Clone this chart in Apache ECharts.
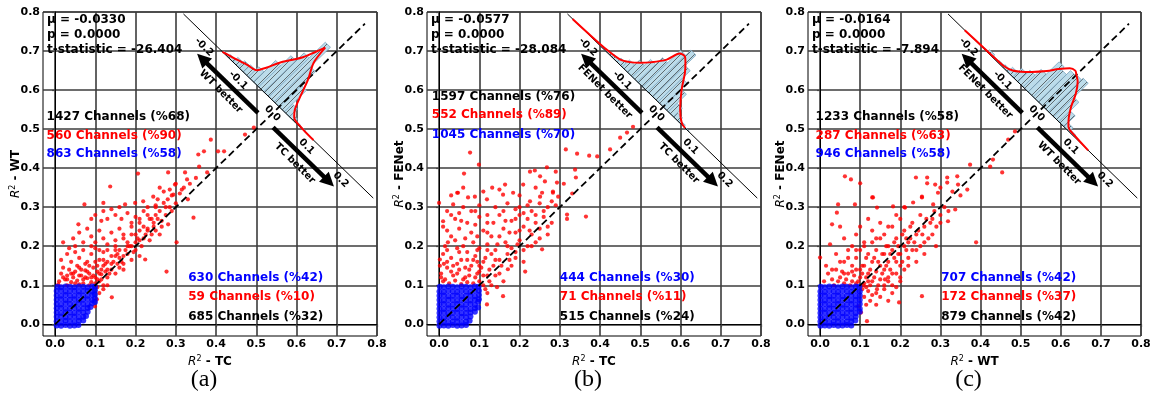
<!DOCTYPE html>
<html><head><meta charset="utf-8">
<script src="https://cdn.jsdelivr.net/npm/echarts@6.0.0/dist/echarts.min.js"></script>
<style>html,body{margin:0;padding:0;background:#fff;}#c{width:1156px;height:397px;}</style>
</head><body><div id="c"></div>
<script>
// ---------- data ----------
const axisTicks = [0, 0.1, 0.2, 0.3, 0.4, 0.5, 0.6, 0.7, 0.8];
const diffTicks = [-0.2, -0.1, 0, 0.1, 0.2];
const captions = ['(a)', '(b)', '(c)'];
const xNames = ['TC', 'TC', 'WT'];
const yNames = ['WT', 'FENet', 'FENet'];
const betterUp = ['WT better', 'FENet better', 'FENet better'];
const betterDown = ['TC better', 'TC better', 'WT better'];
const statMu = ['-0.0330', '-0.0577', '-0.0164'];
const statP = ['0.0000', '0.0000', '0.0000'];
const statT = ['-26.404', '-28.084', '-7.894'];
const upperBlack = ['1427 Channels (%68)', '1597 Channels (%76)', '1233 Channels (%58)'];
const upperRed = ['560 Channels (%90)', '552 Channels (%89)', '287 Channels (%63)'];
const upperBlue = ['863 Channels (%58)', '1045 Channels (%70)', '946 Channels (%58)'];
const lowerBlue = ['630 Channels (%42)', '444 Channels (%30)', '707 Channels (%42)'];
const lowerRed = ['59 Channels (%10)', '71 Channels (%11)', '172 Channels (%37)'];
const lowerBlack = ['685 Channels (%32)', '515 Channels (%24)', '879 Channels (%42)'];

const redA = [[0.137,0.353],[0.206,0.386],[0.281,0.389],[0.323,0.389],[0.356,0.435],[0.37,0.443],[0.387,0.473],[0.405,0.443],[0.42,0.443],[0.472,0.486],[0.494,0.504],[0.358,0.404],[0.378,0.389],[0.328,0.371],[0.298,0.358],[0.315,0.345],[0.27,0.34],[0.29,0.33],[0.31,0.335],[0.335,0.36],[0.35,0.375],[0.3,0.31],[0.26,0.35],[0.275,0.3],[0.285,0.345],[0.3,0.36],[0.32,0.35],[0.255,0.32],[0.33,0.32],
[0.073,0.307],[0.12,0.311],[0.174,0.307],[0.199,0.311],[0.219,0.315],[0.244,0.327],[0.27,0.311],[0.294,0.332],[0.14,0.295],[0.16,0.3],[0.23,0.3],[0.25,0.305],[0.26,0.29],[0.28,0.32],
[0.058,0.256],[0.09,0.27],[0.1,0.28],[0.115,0.265],[0.13,0.27],[0.15,0.28],[0.165,0.27],[0.18,0.285],[0.2,0.275],[0.21,0.26],[0.22,0.29],[0.235,0.27],[0.25,0.28],[0.265,0.265],[0.281,0.256],[0.29,0.29],[0.344,0.273],[0.12,0.29],[0.19,0.25],[0.245,0.25],
[0.02,0.21],[0.045,0.22],[0.06,0.235],[0.07,0.21],[0.08,0.245],[0.09,0.225],[0.1,0.21],[0.11,0.24],[0.12,0.22],[0.13,0.205],[0.14,0.235],[0.15,0.215],[0.16,0.245],[0.17,0.22],[0.18,0.2],[0.19,0.23],[0.2,0.21],[0.21,0.24],[0.22,0.22],[0.23,0.245],[0.24,0.23],[0.25,0.24],[0.302,0.21],[0.26,0.23],[0.05,0.2],
[0.015,0.165],[0.03,0.18],[0.04,0.16],[0.05,0.185],[0.06,0.17],[0.07,0.19],[0.08,0.16],[0.09,0.18],[0.1,0.195],[0.11,0.165],[0.12,0.185],[0.13,0.16],[0.14,0.175],[0.15,0.19],[0.16,0.17],[0.17,0.155],[0.18,0.18],[0.19,0.165],[0.2,0.19],[0.21,0.175],[0.224,0.166],[0.12,0.15],[0.155,0.155],[0.035,0.195],[0.075,0.155],[0.105,0.15],
[0.01,0.11],[0.015,0.13],[0.02,0.145],[0.025,0.115],[0.03,0.125],[0.035,0.14],[0.04,0.108],[0.045,0.12],[0.05,0.135],[0.055,0.112],[0.06,0.145],[0.065,0.125],[0.07,0.105],[0.075,0.138],[0.08,0.118],[0.085,0.13],[0.09,0.108],[0.095,0.145],[0.1,0.12],[0.105,0.135],[0.11,0.11],[0.115,0.128],[0.12,0.1],[0.13,0.12],[0.14,0.14],[0.15,0.13],[0.16,0.145],[0.17,0.14],[0.277,0.135],[0.008,0.102],[0.03,0.1],[0.06,0.102],[0.085,0.1],
[0.141,0.069],[0.104,0.064],[0.099,0.046],[0.11,0.08],[0.12,0.09],[0.13,0.1],[0.105,0.095],
[0.03,0.115],[0.045,0.13],[0.055,0.15],[0.065,0.14],[0.075,0.12],[0.085,0.15],[0.095,0.125],[0.105,0.115],[0.115,0.14],[0.125,0.155],[0.135,0.13],[0.145,0.16],[0.155,0.18],[0.165,0.16],[0.175,0.19],[0.185,0.2],[0.195,0.185],[0.205,0.22],[0.215,0.2],[0.225,0.23],[0.235,0.215],[0.245,0.26],[0.255,0.27],[0.265,0.25],[0.275,0.28],[0.285,0.3],[0.11,0.13],[0.12,0.165],[0.13,0.14],[0.14,0.155],[0.15,0.175],[0.16,0.19],[0.17,0.175],[0.18,0.21],[0.19,0.2],[0.2,0.23],[0.21,0.215],[0.22,0.25],[0.23,0.24],[0.24,0.27],[0.05,0.105],[0.07,0.115],[0.09,0.12],[0.1,0.105],[0.115,0.115],[0.125,0.135],[0.02,0.12],[0.04,0.13],[0.06,0.125],[0.08,0.135],[0.1,0.16],[0.09,0.2],[0.11,0.19],[0.13,0.19],[0.15,0.2],[0.17,0.23],[0.19,0.26],[0.21,0.27],[0.23,0.28],[0.25,0.3]];

const blueA = [[0.004,-0.003],[0.015,-0.004],[0.026,-0.002],[0.037,-0.004],[0.048,-0.003],[0.058,-0.002],
[0.004,0.008],[0.015,0.007],[0.026,0.009],[0.037,0.008],[0.048,0.007],[0.059,0.009],[0.07,0.01],
[0.004,0.019],[0.015,0.02],[0.026,0.018],[0.037,0.019],[0.048,0.02],[0.059,0.018],[0.07,0.019],[0.077,0.021],
[0.004,0.03],[0.015,0.029],[0.026,0.031],[0.037,0.03],[0.048,0.029],[0.059,0.031],[0.07,0.03],[0.081,0.032],
[0.004,0.041],[0.015,0.042],[0.026,0.04],[0.037,0.041],[0.048,0.042],[0.059,0.04],[0.07,0.041],[0.081,0.042],[0.088,0.044],
[0.004,0.052],[0.015,0.051],[0.026,0.053],[0.037,0.052],[0.048,0.051],[0.059,0.053],[0.07,0.052],[0.081,0.051],[0.092,0.054],[0.099,0.057],
[0.004,0.063],[0.015,0.064],[0.026,0.062],[0.037,0.063],[0.048,0.064],[0.059,0.062],[0.07,0.063],[0.081,0.064],[0.092,0.062],[0.099,0.066],
[0.004,0.074],[0.015,0.073],[0.026,0.075],[0.037,0.074],[0.048,0.073],[0.059,0.075],[0.07,0.074],[0.081,0.073],[0.092,0.075],[0.099,0.076],
[0.004,0.085],[0.015,0.086],[0.026,0.084],[0.037,0.085],[0.048,0.086],[0.059,0.084],[0.07,0.085],[0.081,0.086],[0.092,0.084],[0.099,0.087],
[0.006,0.096],[0.015,0.095],[0.026,0.097],[0.037,0.096],[0.048,0.095],[0.059,0.097],[0.07,0.096],[0.081,0.095],[0.092,0.097],[0.099,0.096]];

const redB = [[0.077,0.44],[0.099,0.409],[0.062,0.386],[0.045,0.337],[0.132,0.35],[0.164,0.358],[0.209,0.358],[0.226,0.391],[0.238,0.394],[0.251,0.379],[0.268,0.402],[0.263,0.366],[0.29,0.391],[0.315,0.448],[0.343,0.437],[0.373,0.432],[0.393,0.43],[0.425,0.448],[0.293,0.363],[0.296,0.327],[0.331,0.335],[0.338,0.396],[0.34,0.376],[0.45,0.478],[0.467,0.491],[0.482,0.506],[0.283,0.34],[0.251,0.327],[0.2,0.33],[0.15,0.345],[0.11,0.34],[0.24,0.35],[0.31,0.36],[0.03,0.33],[0.06,0.35],
[0.0,0.311],[0.01,0.264],[0.047,0.337],[0.035,0.307],[0.072,0.325],[0.089,0.327],[0.119,0.32],[0.159,0.332],[0.184,0.337],[0.226,0.315],[0.256,0.337],[0.283,0.337],[0.318,0.281],[0.365,0.276],[0.318,0.27],[0.256,0.192],[0.214,0.135],[0.171,0.141],[0.144,0.095],[0.159,0.072],[0.119,0.051],[0.022,0.21],[0.002,0.166],[0.002,0.15],
[0.03,0.28],[0.06,0.3],[0.08,0.29],[0.1,0.305],[0.14,0.3],[0.17,0.31],[0.2,0.3],[0.23,0.29],[0.25,0.31],[0.27,0.3],[0.29,0.305],
[0.04,0.27],[0.07,0.26],[0.1,0.275],[0.12,0.26],[0.15,0.28],[0.18,0.265],[0.2,0.28],[0.22,0.27],[0.24,0.26],[0.26,0.275],[0.28,0.26],
[0.02,0.24],[0.05,0.245],[0.08,0.235],[0.11,0.24],[0.13,0.225],[0.16,0.245],[0.19,0.235],[0.21,0.25],[0.23,0.23],[0.25,0.245],[0.27,0.23],
[0.015,0.2],[0.04,0.215],[0.06,0.2],[0.085,0.21],[0.1,0.195],[0.12,0.205],[0.14,0.19],[0.165,0.21],[0.18,0.195],[0.2,0.215],[0.22,0.2],[0.24,0.21],
[0.01,0.18],[0.03,0.17],[0.05,0.185],[0.07,0.165],[0.09,0.175],[0.11,0.16],[0.13,0.18],[0.15,0.165],[0.17,0.18],[0.19,0.17],[0.21,0.16],
[0.005,0.13],[0.02,0.145],[0.035,0.125],[0.05,0.14],[0.065,0.12],[0.08,0.15],[0.095,0.13],[0.105,0.145],[0.12,0.125],[0.135,0.15],[0.15,0.13],[0.16,0.11],[0.18,0.15],[0.13,0.1],
[0.01,0.11],[0.025,0.105],[0.04,0.112],[0.055,0.103],[0.07,0.108],[0.085,0.105],[0.1,0.11],[0.115,0.09],[0.12,0.08],[0.11,0.1],[0.012,0.155],[0.045,0.155],[0.075,0.14],[0.095,0.16],
[0.005,0.12],[0.015,0.115],[0.03,0.135],[0.045,0.13],[0.06,0.115],[0.075,0.125],[0.09,0.12],[0.1,0.135],[0.02,0.16],[0.035,0.15],[0.055,0.165],[0.065,0.145],[0.085,0.165],[0.1,0.15],[0.115,0.17],[0.125,0.14],[0.14,0.165],[0.155,0.15],[0.175,0.165],[0.19,0.185],[0.02,0.19],[0.045,0.195],[0.07,0.185],[0.095,0.19],[0.12,0.19],[0.145,0.205],[0.17,0.2],[0.195,0.205],[0.21,0.19],[0.03,0.225],[0.065,0.22],[0.095,0.225],[0.12,0.235],[0.15,0.225],[0.175,0.235],[0.2,0.24],[0.225,0.24],[0.01,0.25],[0.055,0.265],[0.09,0.255],[0.135,0.26],[0.165,0.265],[0.19,0.27],[0.21,0.285],[0.24,0.28],[0.26,0.29],[0.02,0.29],[0.05,0.285],[0.09,0.29],[0.12,0.28],[0.16,0.29],[0.19,0.295],[0.22,0.305],[0.28,0.315],[0.125,0.11],[0.14,0.125],[0.11,0.125],[0.23,0.2],[0.25,0.22],[0.27,0.25]];

const blueB = [[0.001,-0.004],[0.012,-0.003],[0.023,-0.004],[0.034,-0.002],[0.045,-0.004],[0.056,-0.003],[0.067,-0.002],
[0.001,0.007],[0.012,0.008],[0.023,0.006],[0.034,0.007],[0.045,0.008],[0.056,0.006],[0.067,0.007],[0.076,0.009],
[0.001,0.018],[0.012,0.017],[0.023,0.019],[0.034,0.018],[0.045,0.017],[0.056,0.019],[0.067,0.018],[0.078,0.02],
[0.001,0.029],[0.012,0.03],[0.023,0.028],[0.034,0.029],[0.045,0.03],[0.056,0.028],[0.067,0.029],[0.078,0.03],[0.089,0.032],
[0.001,0.04],[0.012,0.039],[0.023,0.041],[0.034,0.04],[0.045,0.039],[0.056,0.041],[0.067,0.04],[0.078,0.039],[0.089,0.041],[0.097,0.043],
[0.001,0.051],[0.012,0.052],[0.023,0.05],[0.034,0.051],[0.045,0.052],[0.056,0.05],[0.067,0.051],[0.078,0.052],[0.089,0.05],[0.097,0.058],
[0.001,0.062],[0.012,0.061],[0.023,0.063],[0.034,0.062],[0.045,0.061],[0.056,0.063],[0.067,0.062],[0.078,0.061],[0.089,0.063],[0.099,0.064],
[0.001,0.073],[0.012,0.074],[0.023,0.072],[0.034,0.073],[0.045,0.074],[0.056,0.072],[0.067,0.073],[0.078,0.074],[0.089,0.072],[0.099,0.075],
[0.001,0.084],[0.012,0.083],[0.023,0.085],[0.034,0.084],[0.045,0.083],[0.056,0.085],[0.067,0.084],[0.078,0.083],[0.089,0.085],[0.099,0.086],
[0.002,0.096],[0.012,0.095],[0.023,0.097],[0.034,0.096],[0.045,0.095],[0.056,0.097],[0.067,0.096],[0.078,0.095],[0.089,0.097],[0.098,0.096]];

const redC = [[0.0,0.171],[0.045,0.307],[0.042,0.286],[0.03,0.256],[0.025,0.205],[0.087,0.307],[0.13,0.325],[0.142,0.299],[0.182,0.302],[0.212,0.299],[0.232,0.312],[0.254,0.325],[0.282,0.307],[0.319,0.264],[0.337,0.294],[0.389,0.21],[0.289,0.2],[0.254,0.072],[0.197,0.056],[0.117,0.008],[0.095,0.046],[0.142,0.09],[0.162,0.115],
[0.062,0.379],[0.077,0.371],[0.1,0.361],[0.132,0.325],[0.239,0.376],[0.267,0.376],[0.267,0.361],[0.287,0.358],[0.317,0.376],[0.317,0.363],[0.342,0.379],[0.344,0.358],[0.367,0.345],[0.374,0.409],[0.424,0.404],[0.431,0.422],[0.454,0.389],[0.469,0.473],[0.486,0.494],[0.254,0.327],[0.294,0.337],[0.3,0.35],[0.33,0.34],[0.35,0.33],
[0.05,0.25],[0.06,0.22],[0.08,0.2],[0.09,0.23],[0.1,0.25],[0.11,0.21],[0.12,0.27],[0.13,0.24],[0.14,0.22],[0.15,0.26],[0.16,0.23],[0.17,0.2],[0.18,0.25],[0.19,0.22],[0.2,0.27],[0.21,0.24],[0.22,0.21],[0.23,0.26],[0.24,0.23],[0.25,0.28],[0.26,0.25],[0.27,0.22],[0.28,0.27],[0.29,0.25],[0.3,0.28],[0.31,0.3],[0.32,0.29],
[0.04,0.18],[0.06,0.16],[0.07,0.19],[0.08,0.15],[0.09,0.17],[0.1,0.19],[0.11,0.15],[0.12,0.18],[0.13,0.16],[0.14,0.19],[0.15,0.15],[0.16,0.18],[0.17,0.16],[0.18,0.19],[0.19,0.16],[0.2,0.18],[0.21,0.2],[0.22,0.17],[0.23,0.19],[0.24,0.16],[0.25,0.2],[0.26,0.18],
[0.02,0.13],[0.03,0.115],[0.04,0.14],[0.05,0.12],[0.06,0.105],[0.07,0.13],[0.08,0.11],[0.09,0.14],[0.1,0.12],[0.11,0.105],[0.12,0.13],[0.13,0.11],[0.14,0.135],[0.15,0.115],[0.16,0.14],[0.17,0.12],[0.18,0.1],[0.19,0.13],[0.2,0.11],[0.21,0.14],
[0.105,0.09],[0.11,0.07],[0.115,0.05],[0.12,0.085],[0.125,0.06],[0.13,0.075],[0.14,0.05],[0.15,0.07],[0.16,0.09],[0.17,0.06],[0.18,0.08],[0.19,0.095],[0.2,0.12],[0.102,0.03],[0.108,0.1],[0.115,0.095],[0.01,0.11],[0.015,0.15],[0.035,0.1],[0.055,0.135],[0.075,0.1],[0.09,0.105],
[0.03,0.14],[0.045,0.11],[0.065,0.115],[0.085,0.125],[0.095,0.11],[0.105,0.13],[0.115,0.12],[0.125,0.1],[0.135,0.12],[0.145,0.1],[0.155,0.13],[0.165,0.15],[0.175,0.14],[0.185,0.17],[0.195,0.18],[0.205,0.16],[0.215,0.19],[0.225,0.22],[0.235,0.21],[0.245,0.24],[0.255,0.23],[0.265,0.27],[0.275,0.26],[0.285,0.29],[0.105,0.15],[0.115,0.17],[0.125,0.14],[0.135,0.17],[0.145,0.16],[0.155,0.18],[0.165,0.2],[0.175,0.18],[0.185,0.21],[0.195,0.2],[0.205,0.23],[0.215,0.22],[0.225,0.25],[0.14,0.08],[0.16,0.1],[0.17,0.11],[0.18,0.13],[0.2,0.15],[0.22,0.15],[0.24,0.19],[0.26,0.21],[0.28,0.23],[0.3,0.26],[0.05,0.16],[0.07,0.17],[0.09,0.19],[0.11,0.2],[0.13,0.21],[0.15,0.22],[0.17,0.25],[0.19,0.28],[0.21,0.3],[0.06,0.13],[0.08,0.135],[0.1,0.14],[0.12,0.11]];

const blueC = [[0.001,-0.004],[0.012,-0.003],[0.023,-0.004],[0.034,-0.002],[0.045,-0.004],[0.056,-0.003],[0.067,-0.002],[0.078,-0.003],
[0.001,0.007],[0.012,0.008],[0.023,0.006],[0.034,0.007],[0.045,0.008],[0.056,0.006],[0.067,0.007],[0.078,0.008],[0.088,0.01],
[0.001,0.018],[0.012,0.017],[0.023,0.019],[0.034,0.018],[0.045,0.017],[0.056,0.019],[0.067,0.018],[0.078,0.017],[0.089,0.02],
[0.001,0.029],[0.012,0.03],[0.023,0.028],[0.034,0.029],[0.045,0.03],[0.056,0.028],[0.067,0.029],[0.078,0.03],[0.089,0.028],[0.099,0.032],
[0.001,0.04],[0.012,0.039],[0.023,0.041],[0.034,0.04],[0.045,0.039],[0.056,0.041],[0.067,0.04],[0.078,0.039],[0.089,0.041],[0.099,0.04],
[0.001,0.051],[0.012,0.052],[0.023,0.05],[0.034,0.051],[0.045,0.052],[0.056,0.05],[0.067,0.051],[0.078,0.052],[0.089,0.05],[0.099,0.052],
[0.001,0.062],[0.012,0.061],[0.023,0.063],[0.034,0.062],[0.045,0.061],[0.056,0.063],[0.067,0.062],[0.078,0.061],[0.089,0.063],[0.099,0.062],
[0.001,0.073],[0.012,0.074],[0.023,0.072],[0.034,0.073],[0.045,0.074],[0.056,0.072],[0.067,0.073],[0.078,0.074],[0.089,0.072],[0.099,0.074],
[0.001,0.084],[0.012,0.083],[0.023,0.085],[0.034,0.084],[0.045,0.083],[0.056,0.085],[0.067,0.084],[0.078,0.083],[0.089,0.085],[0.099,0.084],
[0.002,0.096],[0.012,0.095],[0.023,0.097],[0.034,0.096],[0.045,0.095],[0.056,0.097],[0.067,0.096],[0.078,0.095],[0.089,0.097],[0.098,0.096]];

// rotated difference histograms (left bin edge, bar height) and KDE curves ([difference, density])
const binWidth = 0.015;
const histEdgesA = [-0.165,-0.15,-0.135,-0.12,-0.105,-0.09,-0.075,-0.06,-0.045,-0.03,-0.015,0,0.015,0.03,0.045,0.06,0.075];
const histHA     = [0.003,0.006,0.012,0.016,0.018,0.026,0.055,0.08,0.1,0.14,0.09,0.055,0.02,0.007,0.003,0.002,0.001];
const kdeA = [[-0.166,0],[-0.15,0.004],[-0.134,0.0075],[-0.11,0.014],[-0.088,0.019],[-0.078,0.034],[-0.066,0.057],[-0.053,0.075],[-0.04,0.093],[-0.03,0.115],[-0.022,0.133],[-0.016,0.099],[0.001,0.071],[0.015,0.04],[0.027,0.016],[0.038,0.005],[0.065,0.001],[0.1,0]];
const histEdgesB = [-0.21,-0.195,-0.18,-0.165,-0.15,-0.135,-0.12,-0.105,-0.09,-0.075,-0.06,-0.045,-0.03,-0.015,0,0.015,0.03,0.045,0.06];
const histHB     = [0.001,0.002,0.003,0.004,0.006,0.01,0.018,0.03,0.045,0.062,0.094,0.107,0.08,0.06,0.045,0.022,0.01,0.004,0.001];
const kdeB = [[-0.265,0],[-0.22,0.001],[-0.169,0.003],[-0.135,0.007],[-0.116,0.016],[-0.1,0.028],[-0.087,0.04],[-0.066,0.065],[-0.056,0.089],[-0.044,0.0915],[-0.035,0.085],[-0.0195,0.0705],[0.001,0.045],[0.029,0.0175],[0.051,0.0025],[0.064,0]];
const histEdgesC = [-0.18,-0.165,-0.15,-0.135,-0.12,-0.105,-0.09,-0.075,-0.06,-0.045,-0.03,-0.015,0,0.015,0.03,0.045,0.06,0.075];
const histHC     = [0.002,0.006,0.003,0.004,0.006,0.012,0.022,0.03,0.045,0.077,0.07,0.08,0.082,0.086,0.05,0.028,0.01,0.004];
const kdeC = [[-0.231,0],[-0.18,0.001],[-0.14,0.002],[-0.118,0.003],[-0.1,0.008],[-0.086,0.017],[-0.07,0.03],[-0.049,0.05],[-0.035,0.067],[-0.0197,0.0824],[-0.008,0.086],[0,0.082],[0.012,0.075],[0.0276,0.057],[0.04,0.035],[0.053,0.018],[0.066,0.006],[0.09,0.002],[0.131,0]];

const reds = [redA, redB, redC];
const blues = [blueA, blueB, blueC];
const histEdges = [histEdgesA, histEdgesB, histEdgesC];
const histHs = [histHA, histHB, histHC];
const kdes = [kdeA, kdeB, kdeC];

// ---------- geometry of the rotated inset (difference axis along anti-diagonal) ----------
const O = 0.557, K = 0.85;
function toXY(d, h) { return [O + K * d + h, O - K * d + h]; }
const diagEnds = [0, 0.77];
const insetRange = [-0.28, 0.275];
const arrowSpans = [[-0.022, -0.2], [0.022, 0.2]];
const arrowH = -0.034;

const grids = [{left: 43, width: 334}, {left: 427, width: 334}, {left: 808, width: 333}];
const FONT = 'DejaVu Sans';

function hatchCanvas() {
  const c = document.createElement('canvas');
  c.width = 7; c.height = 7;
  const g = c.getContext('2d');
  g.fillStyle = '#bcdcea'; g.fillRect(0, 0, 7, 7);
  g.strokeStyle = 'rgba(40,40,40,0.9)'; g.lineWidth = 0.7;
  g.beginPath();
  g.moveTo(0, 7); g.lineTo(7, 0);
  g.moveTo(-1, 1); g.lineTo(1, -1);
  g.moveTo(6, 8); g.lineTo(8, 6);
  g.stroke();
  return c;
}
const hatch = hatchCanvas();

const chart = echarts.init(document.getElementById('c'), null, {renderer: 'canvas'});

const gridOpt = [], xAxes = [], yAxes = [], series = [];
const richName = {
  r: {fontFamily: FONT, fontStyle: 'italic', fontSize: 12, color: '#000'},
  s: {fontFamily: FONT, fontSize: 8, color: '#000', verticalAlign: 'bottom', padding: [0, 0, 6, 0]},
  b: {fontFamily: FONT, fontWeight: 'bold', fontSize: 12, color: '#000'}
};
for (let i = 0; i < 3; i++) {
  gridOpt.push({left: grids[i].left, width: grids[i].width, top: 12, height: 324, show: true, borderColor: '#000', borderWidth: 1, backgroundColor: 'transparent'});
  const common = {
    type: 'value', gridIndex: i, min: -0.03, max: 0.8,
    axisLine: {show: true, lineStyle: {color: '#000', width: 1}},
    axisTick: {show: true, length: 3, lineStyle: {color: '#444', width: 1.2}, customValues: axisTicks},
    axisLabel: {customValues: axisTicks, formatter: v => v.toFixed(1), fontFamily: FONT, fontWeight: 'bold', fontSize: 11, color: '#000', margin: 3},
    splitLine: {show: true, lineStyle: {color: '#3c3c3c', width: 1.6}},
    nameLocation: 'middle', nameTextStyle: {rich: richName}
  };
  xAxes.push(Object.assign({}, common, {name: '{r|R}{s|2}{b| - ' + xNames[i] + '}', nameGap: 17}));
  yAxes.push(Object.assign({}, common, {name: '{r|R}{s|2}{b| - ' + yNames[i] + '}', nameGap: 20, nameRotate: 90, nameMoveOverlap: false}));

  series.push({type: 'scatter', xAxisIndex: i, yAxisIndex: i, data: reds[i], symbolSize: 4.2, itemStyle: {color: '#ff0000'}, z: 2, silent: true, animation: false});
  series.push({type: 'scatter', xAxisIndex: i, yAxisIndex: i, data: blues[i], symbolSize: 6, itemStyle: {color: '#0000ff'}, z: 3, silent: true, animation: false});
  // histogram bars
  const histData = histEdges[i].map((e, k) => [e, e + binWidth, histHs[i][k]]);
  series.push({
    type: 'custom', xAxisIndex: i, yAxisIndex: i, data: histData, z: 4, silent: true, animation: false,
    renderItem: (p, api) => {
      const d0 = api.value(0), d1 = api.value(1), h = api.value(2);
      const pts = [toXY(d0, 0), toXY(d1, 0), toXY(d1, h), toXY(d0, h)].map(q => api.coord(q));
      return {type: 'polygon', shape: {points: pts}, style: {fill: {image: hatch, repeat: 'repeat'}, stroke: '#7fa9c4', lineWidth: 0.8}};
    }
  });
  // KDE curve
  series.push({type: 'line', xAxisIndex: i, yAxisIndex: i, data: kdes[i].map(q => toXY(q[0], q[1])), smooth: 0.3, showSymbol: false, lineStyle: {color: '#ff0000', width: 2}, z: 6, silent: true, animation: false});
  // diagonal y = x
  series.push({type: 'line', xAxisIndex: i, yAxisIndex: i, data: [[diagEnds[0], diagEnds[0]], [diagEnds[1], diagEnds[1]]], showSymbol: false, lineStyle: {color: '#000', width: 1.8, type: [7, 4]}, z: 5, silent: true, animation: false});
  // inset (difference) axis
  series.push({type: 'line', xAxisIndex: i, yAxisIndex: i, data: [toXY(insetRange[0], 0), toXY(insetRange[1], 0)], showSymbol: false, lineStyle: {color: '#000', width: 1}, z: 5, silent: true, animation: false});
  // arrows
  series.push({
    type: 'custom', xAxisIndex: i, yAxisIndex: i, data: arrowSpans, z: 7, silent: true, animation: false,
    renderItem: (p, api) => {
      const a = api.coord(toXY(api.value(0), arrowH)), b = api.coord(toXY(api.value(1), arrowH));
      const dx = b[0] - a[0], dy = b[1] - a[1], L = Math.hypot(dx, dy);
      const ux = dx / L, uy = dy / L, nx = -uy, ny = ux;
      const HL = 14, HW = 7;
      const bx = b[0] - ux * HL, by = b[1] - uy * HL;
      return {type: 'group', children: [
        {type: 'line', shape: {x1: a[0], y1: a[1], x2: bx + ux, y2: by + uy}, style: {stroke: '#000', lineWidth: 4.5}},
        {type: 'polygon', shape: {points: [b, [bx + nx * HW, by + ny * HW], [bx - nx * HW, by - ny * HW]]}, style: {fill: '#000'}}
      ]};
    }
  });
}

chart.setOption({
  animation: false, backgroundColor: '#fff',
  grid: gridOpt, xAxis: xAxes, yAxis: yAxes, series: series
});

// ---------- text annotations ----------
const statPos = [[-0.02, 0.78], [-0.02, 0.742], [-0.02, 0.703]];
const upperPos = [[[-0.021, 0.532], [-0.021, 0.483], [-0.021, 0.437]], [[-0.018, 0.583], [-0.018, 0.537], [-0.018, 0.486]], [[-0.011, 0.531], [-0.011, 0.483], [-0.011, 0.437]]];
const lowerPos = [[[0.331, 0.12], [0.331, 0.069], [0.331, 0.019]], [[0.3, 0.12], [0.3, 0.069], [0.3, 0.019]], [[0.302, 0.12], [0.302, 0.069], [0.302, 0.019]]];
const tickLabelH = -0.017;
const betterH = -0.053, betterD = 0.108;

const graphic = [];
function px(i, p) { return chart.convertToPixel({gridIndex: i}, p); }
function txt(i, p, s, color, size, opts) {
  const q = px(i, p);
  graphic.push(Object.assign({type: 'text', x: q[0], y: q[1], silent: true, z: 20,
    style: {text: s, fill: color, font: 'bold ' + size + 'px "DejaVu Sans"', textAlign: 'left', textVerticalAlign: 'middle'}}, opts || {}));
}
for (let i = 0; i < 3; i++) {
  txt(i, statPos[0], '\u03bc = ' + statMu[i], '#000', 12);
  txt(i, statPos[1], 'p = ' + statP[i], '#000', 12);
  txt(i, statPos[2], 't-statistic = ' + statT[i], '#000', 12);
  txt(i, upperPos[i][0], upperBlack[i], '#000', 12);
  txt(i, upperPos[i][1], upperRed[i], '#ff0000', 12);
  txt(i, upperPos[i][2], upperBlue[i], '#0000ff', 12);
  txt(i, lowerPos[i][0], lowerBlue[i], '#0000ff', 12);
  txt(i, lowerPos[i][1], lowerRed[i], '#ff0000', 12);
  txt(i, lowerPos[i][2], lowerBlack[i], '#000', 12);
  diffTicks.forEach(d => {
    const q = px(i, toXY(d, tickLabelH));
    graphic.push({type: 'text', x: q[0], y: q[1], rotation: -Math.PI / 4, silent: true, z: 20,
      style: {text: d.toFixed(1), fill: '#000', font: 'bold 10px "DejaVu Sans"', textAlign: 'center', textVerticalAlign: 'middle'}});
  });
  [[-betterD, betterUp[i]], [betterD, betterDown[i]]].forEach(([d, s]) => {
    const q = px(i, toXY(d, betterH));
    graphic.push({type: 'text', x: q[0], y: q[1], rotation: -Math.PI / 4, silent: true, z: 20,
      style: {text: s, fill: '#000', font: 'bold 10px "DejaVu Sans"', textAlign: 'center', textVerticalAlign: 'middle'}});
  });
  graphic.push({type: 'text', x: grids[i].left + grids[i].width / 2 - 6, y: 380, silent: true, z: 20,
    style: {text: captions[i], fill: '#000', font: '24px "Liberation Serif"', textAlign: 'center', textVerticalAlign: 'middle'}});
}
chart.setOption({graphic: graphic});
</script>
</body></html>
